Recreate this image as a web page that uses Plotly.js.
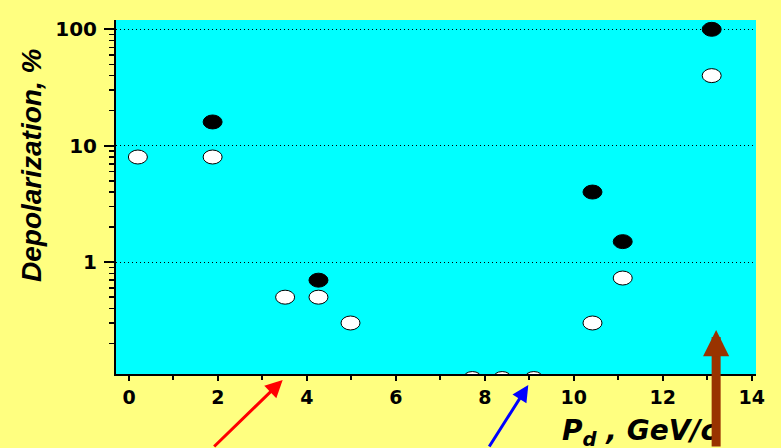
<!DOCTYPE html>
<html>
<head>
<meta charset="utf-8">
<script src="https://cdn.plot.ly/plotly-3.0.1.min.js"></script>
<style>
  html, body { margin: 0; padding: 0; background: #FFFF80; }
  #chart { width: 781px; height: 448px; }
</style>
</head>
<body>
<div id="chart"></div>
<script>
// Depolarization vs deuteron momentum
const filledMomentum = [1.88, 4.26, 10.42, 11.1, 13.1];
const filledDepol    = [16, 0.7, 4, 1.5, 100];

const openMomentum = [0.2, 1.88, 3.51, 4.26, 4.98, 7.72, 8.39, 9.1, 10.42, 11.1, 13.1];
const openDepol    = [8, 8, 0.5, 0.5, 0.3, 0.1, 0.1, 0.1, 0.3, 0.73, 40];

const xTickVals = [0, 2, 4, 6, 8, 10, 12, 14];
const yTickVals = [1, 10, 100];

// arrows pointing at particular momenta below the axis
const arrowMomentum = [3.455, 8.977, 13.2];
const arrowColors   = ['#FF0000', '#0000FF', '#993300'];

const xRange = [-0.292, 14.096];
const yRange = [-0.961, 2.08];

// marker half-sizes: 9.5 px wide, and a multiplicative half-height on the log axis
const HALF_W_PX = 9.5;
const HALF_H_DECADES = 0.06;

// ellipse markers anchored at data values
function ellipses(xs, ys, fill) {
  const k = Math.pow(10, HALF_H_DECADES);
  return xs.map((x, i) => ({
    type: 'circle',
    xref: 'x', yref: 'y',
    xsizemode: 'pixel',
    xanchor: x, x0: -HALF_W_PX, x1: HALF_W_PX,
    y0: ys[i] / k, y1: ys[i] * k,
    fillcolor: fill,
    line: { color: '#000000', width: 1 },
    layer: 'above'
  }));
}

const tickFontX = { family: 'DejaVu Sans', size: 19, color: '#000', weight: 'bold' };
const tickFontY = { family: 'DejaVu Sans', size: 20, color: '#000', weight: 'bold' };

const layout = {
  width: 781, height: 448,
  margin: { l: 116, r: 25, t: 20, b: 74, pad: 0 },
  paper_bgcolor: '#FFFF80',
  plot_bgcolor: '#00FFFF',
  showlegend: false,
  xaxis: {
    range: xRange, showline: true, linecolor: '#000', linewidth: 2,
    tickmode: 'array', tickvals: xTickVals,
    ticks: 'outside', ticklen: 5, tickwidth: 2, tickcolor: '#000',
    minor: { ticks: 'outside', ticklen: 4, tickwidth: 2, tickcolor: '#000', dtick: 1, tick0: 0, showgrid: false },
    showgrid: false, zeroline: false, tickfont: tickFontX, fixedrange: true
  },
  xaxis2: {
    overlaying: 'x', side: 'top', anchor: 'y',
    range: xRange, showline: true, linecolor: '#000', linewidth: 2,
    tickmode: 'array', tickvals: xTickVals,
    ticks: 'inside', ticklen: 7, tickwidth: 2, tickcolor: '#000',
    minor: { ticks: 'inside', ticklen: 4, tickwidth: 2, tickcolor: '#000', dtick: 1, tick0: 0, showgrid: false },
    showticklabels: false, showgrid: false, zeroline: false, fixedrange: true
  },
  yaxis: {
    type: 'log', range: yRange, showline: true, linecolor: '#000', linewidth: 2,
    tickmode: 'array', tickvals: yTickVals, ticktext: yTickVals.map(String),
    ticks: 'outside', ticklen: 10, tickwidth: 2, tickcolor: '#000',
    minor: { ticks: 'outside', ticklen: 5, tickwidth: 1.5, tickcolor: '#000', dtick: 'D1', showgrid: false },
    showgrid: true, gridcolor: '#000', gridwidth: 1, griddash: '1px,3px',
    zeroline: false, tickfont: tickFontY, ticklabelstandoff: 3, fixedrange: true
  },
  yaxis2: {
    overlaying: 'y', side: 'right', anchor: 'x',
    type: 'log', range: yRange, showline: true, linecolor: '#000', linewidth: 2,
    tickmode: 'array', tickvals: yTickVals,
    ticks: 'inside', ticklen: 9, tickwidth: 2, tickcolor: '#000',
    minor: { ticks: 'inside', ticklen: 4, tickwidth: 1.5, tickcolor: '#000', dtick: 'D1', showgrid: false },
    showticklabels: false, showgrid: false, zeroline: false, fixedrange: true
  },
  shapes: [].concat(
    ellipses(openMomentum, openDepol, '#FFFFFF'),
    ellipses(filledMomentum, filledDepol, '#000000')
  ),
  annotations: [
    {
      text: 'Depolarization, %', textangle: -90,
      xref: 'paper', yref: 'paper', x: -0.133, y: 0.59,
      xanchor: 'center', yanchor: 'middle', showarrow: false,
      font: { family: 'Liberation Sans, Arial', size: 28, color: '#000', weight: 'bold', style: 'italic' }
    },
    {
      text: 'P<sub>d</sub> , GeV/c',
      xref: 'paper', yref: 'paper', x: 0.819, y: -0.108,
      xanchor: 'center', yanchor: 'top', showarrow: false,
      font: { family: 'DejaVu Sans', size: 28, color: '#000', weight: 'bold', style: 'italic' }
    },
    {
      text: '', xref: 'x', yref: 'paper', x: arrowMomentum[0], y: -0.017,
      showarrow: true, ax: -70, ay: 80, arrowcolor: arrowColors[0],
      arrowwidth: 3, arrowhead: 2, arrowsize: 1.15, standoff: 0
    },
    {
      text: '', xref: 'x', yref: 'paper', x: arrowMomentum[1], y: -0.031,
      showarrow: true, ax: -40, ay: 76, arrowcolor: arrowColors[1],
      arrowwidth: 3, arrowhead: 2, arrowsize: 1.1, standoff: 0
    },
    {
      text: '', xref: 'x', yref: 'paper', x: arrowMomentum[2], y: 0.124,
      showarrow: true, ax: 0, ay: 130, arrowcolor: arrowColors[2],
      arrowwidth: 9, arrowhead: 2, arrowsize: 0.58, standoff: 0
    }
  ]
};

Plotly.newPlot('chart', [], layout, { displayModeBar: false, staticPlot: true });
</script>
</body>
</html>
